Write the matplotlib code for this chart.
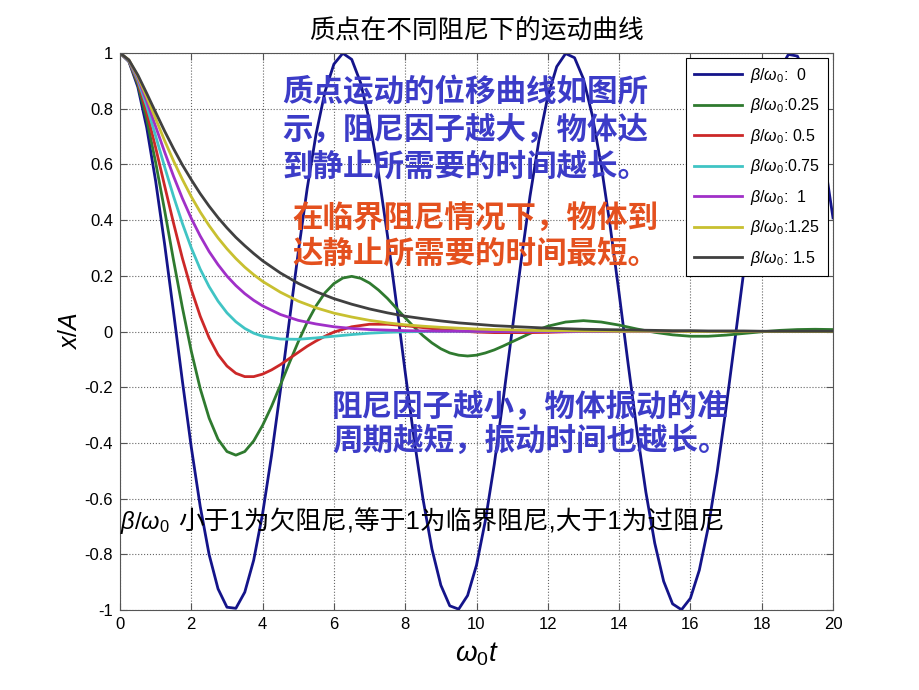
import numpy as np
import matplotlib
matplotlib.use('Agg')
import matplotlib.pyplot as plt

plt.rcParams['font.family'] = ['Liberation Sans', 'Noto Sans CJK SC', 'DejaVu Sans']
plt.rcParams['mathtext.fontset'] = 'custom'
plt.rcParams['mathtext.rm'] = 'Liberation Sans'
plt.rcParams['mathtext.it'] = 'Liberation Sans:italic'

# ---------------- data ----------------
# omega0*t sample positions
t_b000 = np.linspace(0, 20, 81)
t_b025 = np.concatenate([np.linspace(0, 12, 49), np.linspace(12.5, 20, 16)])
t_b050 = np.concatenate([np.linspace(0, 6, 25), np.linspace(6.5, 20, 28)])
t_rest = np.concatenate([np.linspace(0, 4, 17), np.linspace(4.5, 20, 32)])

x_b000 = [1.000, 0.969, 0.878, 0.732, 0.540, 0.315, 0.071, -0.178, -0.416, -0.628,
          -0.801, -0.924, -0.990, -0.994, -0.936, -0.821, -0.654, -0.446, -0.211, 0.038,
          0.284, 0.513, 0.709, 0.861, 0.960, 0.999, 0.977, 0.893, 0.754, 0.569,
          0.347, 0.104, -0.146, -0.386, -0.602, -0.781, -0.911, -0.985, -0.997, -0.948,
          -0.839, -0.678, -0.476, -0.243, 0.004, 0.252, 0.485, 0.685, 0.844, 0.951,
          0.998, 0.983, 0.907, 0.775, 0.595, 0.378, 0.137, -0.113, -0.355, -0.576,
          -0.760, -0.897, -0.978, -0.999, -0.958, -0.857, -0.703, -0.505, -0.275, -0.029,
          0.219, 0.454, 0.660, 0.825, 0.939, 0.995, 0.989, 0.921, 0.796, 0.622,
          0.408]

x_b025 = [1.000, 0.971, 0.887, 0.762, 0.607, 0.436, 0.257, 0.086, -0.071, -0.205,
          -0.311, -0.387, -0.431, -0.444, -0.431, -0.393, -0.337, -0.269, -0.192, -0.113,
          -0.037, 0.033, 0.092, 0.139, 0.172, 0.192, 0.198, 0.191, 0.174, 0.149,
          0.119, 0.084, 0.049, 0.016, -0.015, -0.041, -0.062, -0.077, -0.085, -0.088,
          -0.085, -0.077, -0.066, -0.052, -0.037, -0.022, -0.007, 0.007, 0.019,
          0.034, 0.039, 0.034, 0.023, 0.009, -0.003, -0.012, -0.017, -0.017, -0.013,
          -0.007, -0.001, 0.004, 0.007, 0.008, 0.007]

x_b050 = [1.000, 0.971, 0.896, 0.787, 0.660, 0.524, 0.390, 0.263, 0.151, 0.055,
          -0.023, -0.083, -0.124, -0.150, -0.162, -0.162, -0.153, -0.138, -0.119, -0.097,
          -0.075, -0.053, -0.034, -0.017, -0.002, 0.017, 0.026, 0.026, 0.021, 0.014,
          0.007, 0.002, -0.002, -0.004, -0.004, -0.004, -0.003, -0.001, 0.000, 0.000,
          0.001, 0.001, 0.001, 0.000, 0.000, 0.000, 0.000, 0.000, 0.000, 0.000,
          0.000, 0.000, 0.000]

x_b075 = [1.000, 0.972, 0.903, 0.809, 0.702, 0.592, 0.486, 0.388, 0.300, 0.224,
          0.161, 0.109, 0.067, 0.035, 0.011, -0.006, -0.017, -0.027,
          -0.028, -0.023, -0.017, -0.011, -0.006, -0.003, -0.001, 0.000, 0.001, 0.001,
          0.001, 0.001, 0.000, 0.000, 0.000, 0.000, 0.000, 0.000, 0.000, 0.000,
          0.000, 0.000, 0.000, 0.000, 0.000, 0.000, 0.000, 0.000, 0.000, 0.000,
          0.000]

x_b100 = [1.000, 0.974, 0.910, 0.827, 0.736, 0.645, 0.558, 0.478, 0.406, 0.343,
          0.287, 0.240, 0.199, 0.165, 0.136, 0.112, 0.092, 0.061,
          0.040, 0.027, 0.017, 0.011, 0.007, 0.005, 0.003, 0.002, 0.001, 0.001,
          0.001, 0.000, 0.000, 0.000, 0.000, 0.000, 0.000, 0.000, 0.000, 0.000,
          0.000, 0.000, 0.000, 0.000, 0.000, 0.000, 0.000, 0.000, 0.000, 0.000,
          0.000]

x_b125 = [1.000, 0.975, 0.916, 0.842, 0.764, 0.686, 0.613, 0.546, 0.484, 0.429,
          0.380, 0.336, 0.297, 0.262, 0.231, 0.204, 0.180, 0.141,
          0.109, 0.085, 0.066, 0.052, 0.040, 0.031, 0.024, 0.019, 0.015, 0.012,
          0.009, 0.007, 0.006, 0.004, 0.003, 0.003, 0.002, 0.002, 0.001, 0.001,
          0.001, 0.001, 0.000, 0.000, 0.000, 0.000, 0.000, 0.000, 0.000, 0.000,
          0.000]

x_b150 = [1.000, 0.975, 0.921, 0.855, 0.787, 0.720, 0.657, 0.598, 0.545, 0.495,
          0.450, 0.409, 0.372, 0.338, 0.308, 0.280, 0.254, 0.210,
          0.173, 0.143, 0.118, 0.098, 0.081, 0.067, 0.055, 0.046, 0.038, 0.031,
          0.026, 0.021, 0.018, 0.015, 0.012, 0.010, 0.008, 0.007, 0.006, 0.005,
          0.004, 0.003, 0.003, 0.002, 0.002, 0.002, 0.001, 0.001, 0.001, 0.001,
          0.001]

labels = [r'$\beta/\omega_0$:  0', r'$\beta/\omega_0$:0.25', r'$\beta/\omega_0$: 0.5',
          r'$\beta/\omega_0$:0.75', r'$\beta/\omega_0$:  1', r'$\beta/\omega_0$:1.25',
          r'$\beta/\omega_0$: 1.5']
colors = ['#14148a', '#2f7a2f', '#cc2828', '#40c4c4', '#a030c8', '#c8c030', '#404040']

x_ticks = [0, 2, 4, 6, 8, 10, 12, 14, 16, 18, 20]
y_ticks = [-1, -0.8, -0.6, -0.4, -0.2, 0, 0.2, 0.4, 0.6, 0.8, 1]
y_tick_labels = ['-1', '-0.8', '-0.6', '-0.4', '-0.2', '0', '0.2', '0.4', '0.6', '0.8', '1']

title = '质点在不同阻尼下的运动曲线'
note_top = ['质点运动的位移曲线如图所', '示，阻尼因子越大，物体达', '到静止所需要的时间越长。']
note_red = ['在临界阻尼情况下，物体到', '达静止所需要的时间最短。']
note_low = ['阻尼因子越小，物体振动的准', '周期越短，振动时间也越长。']
note_black = '小于1为欠阻尼,等于1为临界阻尼,大于1为过阻尼'

# ---------------- figure ----------------
W, H = 920, 690
fig = plt.figure(figsize=(W / 100, H / 100), dpi=100)
ax = fig.add_axes([120 / W, 1 - 610 / H, (833 - 120) / W, (610 - 53) / H])

series = [(t_b000, x_b000), (t_b025, x_b025), (t_b050, x_b050), (t_rest, x_b075),
          (t_rest, x_b100), (t_rest, x_b125), (t_rest, x_b150)]
for (tt, yy), c, lab in zip(series, colors, labels):
    ax.plot(tt, yy, color=c, lw=2.0, label=lab, solid_joinstyle='round')

ax.set_xlim(0, 20)
ax.set_ylim(-1, 1)
ax.set_xticks(x_ticks)
ax.set_xticklabels([str(v) for v in x_ticks])
ax.set_yticks(y_ticks)
ax.set_yticklabels(y_tick_labels)
ax.tick_params(direction='in', length=5, top=True, right=True, labelsize=12,
               color='#555555', labelcolor='black', pad=5)
for s in ax.spines.values():
    s.set_color('#555555')
    s.set_linewidth(0.8)
ax.grid(True, linestyle=':', color='#666666', linewidth=0.8)

ax.set_xlabel(r'$\omega_0 t$', fontsize=20, labelpad=6)
ax.set_ylabel(r'$x/A$', fontsize=18, labelpad=2)

leg = ax.legend(loc='upper right', fontsize=11.5, frameon=True, fancybox=False,
                edgecolor='black', framealpha=1, handlelength=3.0, labelspacing=0.72,
                borderaxespad=0.3, borderpad=0.5, handletextpad=0.5)
leg.get_frame().set_linewidth(0.8)

fig.text(476 / W, 1 - 30 / H, title, ha='center', va='center', fontsize=18.5)

def put(lines, x0, ys, color):
    for s, y in zip(lines, ys):
        fig.text(x0 / W, 1 - y / H, s, ha='left', va='center', fontsize=22,
                 color=color, zorder=10, fontweight='bold')

put(note_top, 282, [93, 131, 168], '#3c3cc8')
put(note_red, 292, [219, 255], '#e4501e')
put(note_low, 332, [408, 442], '#3c3cc8')

fig.text(120 / W, 1 - 522 / H, r'$\beta/\omega_0$', ha='left', va='center', fontsize=17)
fig.text(178 / W, 1 - 522 / H, note_black, ha='left', va='center', fontsize=18.5)

fig.savefig('out.png', dpi=100)
